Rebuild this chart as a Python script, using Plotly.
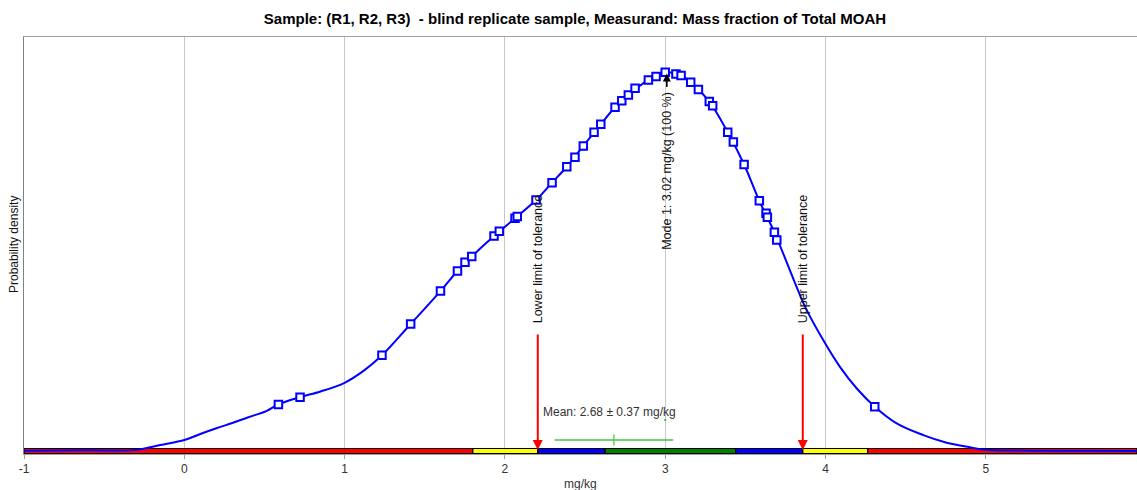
import plotly.graph_objects as go

# ---------------- data ----------------
title_text = "Sample: (R1, R2, R3)  - blind replicate sample, Measurand: Mass fraction of Total MOAH"

# density curve (relative probability density, peak = 1)
curve_x = [-1.0, -0.6, -0.3, -0.15, 0.0, 0.1, 0.2, 0.3, 0.4, 0.515, 0.587, 0.722, 0.85, 1.0, 1.12,
           1.233, 1.412, 1.598, 1.704, 1.793, 1.932, 2.063, 2.194, 2.294, 2.386, 2.489, 2.598,
           2.687, 2.770, 2.895, 3.0, 3.082, 3.159, 3.275, 3.390, 3.492, 3.587, 3.681, 3.810,
           3.872, 3.992, 4.09, 4.195, 4.307, 4.444, 4.610, 4.756, 4.901, 4.995, 5.3, 5.94]
curve_y = [0.001, 0.002, 0.003, 0.016, 0.029, 0.045, 0.060, 0.074, 0.089, 0.106, 0.123, 0.142,
           0.157, 0.180, 0.212, 0.2525, 0.335, 0.422, 0.475, 0.513, 0.567, 0.614, 0.662, 0.708,
           0.750, 0.805, 0.862, 0.907, 0.939, 0.979, 0.999, 0.994, 0.973, 0.922, 0.841, 0.756,
           0.660, 0.577, 0.443, 0.381, 0.288, 0.222, 0.165, 0.117, 0.073, 0.042, 0.022, 0.010,
           0.003, 0.001, 0.0]

# laboratory results shown as markers on the curve
result_x = [0.587, 0.722, 1.233, 1.412, 1.598, 1.704, 1.751, 1.793, 1.932, 1.965, 2.063, 2.077,
            2.194, 2.294, 2.386, 2.437, 2.489, 2.556, 2.598, 2.687, 2.729, 2.770, 2.812, 2.895,
            2.943, 3.0, 3.067, 3.099, 3.159, 3.207, 3.275, 3.296, 3.390, 3.425, 3.492, 3.587,
            3.629, 3.637, 3.681, 3.696, 4.307]
result_y = [0.123, 0.142, 0.2525, 0.335, 0.422, 0.475, 0.498, 0.513, 0.567, 0.580, 0.614, 0.619,
            0.662, 0.708, 0.750, 0.775, 0.805, 0.841, 0.862, 0.907, 0.924, 0.939, 0.957, 0.979,
            0.988, 0.999, 0.995, 0.991, 0.973, 0.954, 0.922, 0.911, 0.841, 0.815, 0.756, 0.660,
            0.627, 0.617, 0.577, 0.557, 0.117]

# score zones along the axis
zone_edges = [-1.0, 1.80, 2.205, 2.625, 3.44, 3.858, 4.263, 5.943]
zone_colors = ["#ff0000", "#ffff00", "#0000ff", "#008000", "#0000ff", "#ffff00", "#ff0000"]

lower_tol = 2.205
upper_tol = 3.858
mode_x = 3.01
mode_label = "Mode 1: 3.02 mg/kg (100 %)"
mean_value = 2.68
mean_unc = 0.37
mean_label = "Mean: 2.68 ± 0.37 mg/kg"

x_ticks = [-1, 0, 1, 2, 3, 4, 5]

# ---------------- figure ----------------
FONT = "Liberation Sans, Arial, sans-serif"
W, H = 1137, 490
ML, MR, MT, MB = 24, 0, 37, 36
Y0, Y1 = -0.0079, 1.0923
plot_h = H - MT - MB
px_per_unit = plot_h / (Y1 - Y0)

fig = go.Figure()

# density curve
fig.add_trace(go.Scatter(
    x=curve_x, y=curve_y, mode="lines",
    line=dict(color="#0000ff", width=2, shape="spline", smoothing=1.0),
    hoverinfo="skip", showlegend=False))

# results
fig.add_trace(go.Scatter(
    x=result_x, y=result_y, mode="markers",
    marker=dict(symbol="square", size=7.5, color="white",
                line=dict(color="#0000ff", width=2)),
    showlegend=False))

# mean with uncertainty
mean_y = 11 / px_per_unit
fig.add_trace(go.Scatter(
    x=[mean_value], y=[mean_y], mode="markers",
    marker=dict(symbol="line-ns", size=8, line=dict(color="#44c444", width=1.2)),
    error_x=dict(type="data", array=[mean_unc], color="#44c444", thickness=1.3, width=0),
    showlegend=False))
fig.add_trace(go.Scatter(
    x=[3.0], y=[31 / px_per_unit], mode="markers",
    marker=dict(symbol="square", size=2, color="#44c444"),
    showlegend=False))

# zone bar
bar_lo = -2.5 / px_per_unit
bar_hi = 2.5 / px_per_unit
for i, c in enumerate(zone_colors):
    fig.add_shape(type="rect", xref="x", yref="y",
                  x0=zone_edges[i], x1=zone_edges[i + 1], y0=bar_lo, y1=bar_hi,
                  fillcolor=c, line=dict(color="black", width=1.2), layer="between")

# tolerance arrows and labels
for xv, lab in [(lower_tol, "Lower limit of tolerance"), (upper_tol, "Upper limit of tolerance")]:
    fig.add_annotation(x=xv, y=1 / px_per_unit, xref="x", yref="y", text="",
                       showarrow=True, arrowhead=2, arrowsize=1, arrowwidth=2,
                       arrowcolor="#ff0000", ax=0, ay=-117)
    fig.add_annotation(x=xv, y=126 / px_per_unit, xref="x", yref="y", text=lab,
                       textangle=-90, showarrow=False, xanchor="center", yanchor="bottom",
                       font=dict(family=FONT, size=12.5, color="#111111"))

# mode arrow + label
fig.add_annotation(x=mode_x, y=0.996, xref="x", yref="y", text="",
                   showarrow=True, arrowhead=2, arrowsize=1, arrowwidth=1.6,
                   arrowcolor="black", ax=0, ay=15)
fig.add_annotation(x=mode_x, y=199 / px_per_unit, xref="x", yref="y", text=mode_label,
                   textangle=-90, showarrow=False, xanchor="center", yanchor="bottom",
                   font=dict(family=FONT, size=12.5, color="#111111"))

# mean label
fig.add_annotation(x=2.228, y=39 / px_per_unit, xref="x", yref="y", text=mean_label,
                   showarrow=False, xanchor="left", yanchor="middle",
                   font=dict(family=FONT, size=12, color="#333333"))

# axis titles
fig.add_annotation(x=(14 - ML) / (W - ML - MR), y=(H - MB - 245) / plot_h,
                   xref="paper", yref="paper", text="Probability density",
                   textangle=-90, showarrow=False, xanchor="center", yanchor="middle",
                   font=dict(family=FONT, size=12, color="#111111"))
fig.add_annotation(x=0.5, y=-(484 - (H - MB)) / plot_h, xref="paper", yref="paper",
                   text="mg/kg", showarrow=False, xanchor="center", yanchor="middle",
                   font=dict(family=FONT, size=12, color="#333333"))

fig.update_layout(
    width=W, height=H,
    margin=dict(l=ML, r=MR, t=MT, b=MB),
    paper_bgcolor="white", plot_bgcolor="white",
    title=dict(text="<b>" + title_text + "</b>", x=575 / W, xref="container", xanchor="center",
               y=1 - 19 / H, yref="container", yanchor="middle",
               font=dict(family=FONT, size=15, color="black")),
    xaxis=dict(range=[-1, 5.943], tickvals=x_ticks, ticktext=[str(t) for t in x_ticks],
               ticks="outside", ticklen=4, tickcolor="#a0a0a0",
               showgrid=True, gridcolor="#c8c8c8", gridwidth=1, zeroline=False,
               showline=True, linecolor="#a0a0a0", mirror=True,
               tickfont=dict(family=FONT, size=12, color="#333333")),
    yaxis=dict(range=[Y0, Y1], showticklabels=False, showgrid=False, zeroline=False,
               showline=True, linecolor="#808080", ticks=""),
    showlegend=False,
)

fig.write_html("out.html", config={"displayModeBar": False},
               post_script="document.body.style.margin='0';document.body.style.overflow='hidden';")
